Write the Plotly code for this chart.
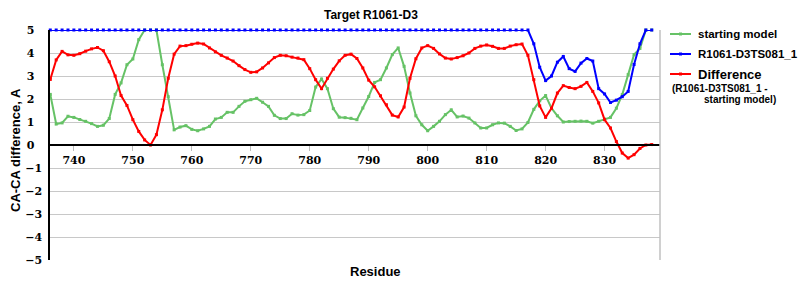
import plotly.graph_objects as go

# ---------------- data ----------------
residues = list(range(736, 839))

starting_model = [
    2.2, 0.91, 0.96, 1.25, 1.2, 1.11, 1.03, 0.93, 0.81, 0.86,
    1.15, 2.2, 2.7, 3.49, 3.74, 4.58, 5.0, 5.0, 5.0, 3.49,
    2.1, 0.66, 0.78, 0.84, 0.68, 0.62, 0.7, 0.81, 1.13, 1.2,
    1.42, 1.42, 1.68, 1.9, 1.97, 2.03, 1.86, 1.68, 1.29, 1.15,
    1.15, 1.36, 1.3, 1.32, 1.5, 2.52, 2.87, 2.45, 1.58, 1.21,
    1.19, 1.16, 1.1, 1.61, 2.11, 2.72, 2.84, 3.35, 3.93, 4.22,
    3.42, 2.26, 1.27, 0.88, 0.62, 0.81, 1.03, 1.32, 1.53, 1.22,
    1.26, 1.17, 0.96, 0.74, 0.74, 0.88, 0.96, 0.95, 0.81, 0.63,
    0.7, 0.98, 1.55, 1.92, 2.15, 1.6, 1.27, 1.0, 1.02, 1.03,
    1.04, 1.03, 0.95, 1.03, 1.13, 1.2, 1.6, 2.19, 3.06, 3.93,
    4.2, 5.0, 5.0,
]

model_ts081 = [
    5.0, 5.0, 5.0, 5.0, 5.0, 5.0, 5.0, 5.0, 5.0, 5.0,
    5.0, 5.0, 5.0, 5.0, 5.0, 5.0, 5.0, 5.0, 5.0, 5.0,
    5.0, 5.0, 5.0, 5.0, 5.0, 5.0, 5.0, 5.0, 5.0, 5.0,
    5.0, 5.0, 5.0, 5.0, 5.0, 5.0, 5.0, 5.0, 5.0, 5.0,
    5.0, 5.0, 5.0, 5.0, 5.0, 5.0, 5.0, 5.0, 5.0, 5.0,
    5.0, 5.0, 5.0, 5.0, 5.0, 5.0, 5.0, 5.0, 5.0, 5.0,
    5.0, 5.0, 5.0, 5.0, 5.0, 5.0, 5.0, 5.0, 5.0, 5.0,
    5.0, 5.0, 5.0, 5.0, 5.0, 5.0, 5.0, 5.0, 5.0, 5.0,
    5.0, 5.0, 4.4, 3.38, 2.8, 3.0, 3.6, 3.85, 3.32, 3.2,
    3.56, 3.76, 3.65, 2.45, 2.22, 1.85, 1.95, 2.1, 2.33, 3.5,
    4.4, 5.0, 5.0,
]

difference = [
    2.85, 3.7, 4.07, 3.92, 3.9, 3.97, 4.08, 4.18, 4.24, 4.1,
    3.62, 3.0, 2.15, 1.72, 1.1, 0.59, 0.22, 0.0, 0.45, 1.53,
    2.9, 3.95, 4.3, 4.32, 4.38, 4.43, 4.39, 4.22, 4.05, 3.9,
    3.78, 3.65, 3.45, 3.28, 3.16, 3.18, 3.35, 3.57, 3.8, 3.9,
    3.88, 3.82, 3.78, 3.71, 3.32, 2.84, 2.45, 2.9, 3.3, 3.66,
    3.9, 3.95, 3.76, 3.35, 2.82, 2.53, 2.14, 1.75, 1.3, 1.22,
    1.65, 2.9, 3.75, 4.22, 4.32, 4.2, 3.96, 3.78, 3.74, 3.8,
    3.88, 4.0, 4.2, 4.3, 4.35, 4.29, 4.2, 4.2, 4.3, 4.36,
    4.39, 3.9, 2.84, 1.7, 1.2, 1.6, 2.26, 2.58, 2.5, 2.45,
    2.55, 2.72, 2.33, 1.83, 1.1, 0.74, 0.15, -0.35, -0.57, -0.42,
    -0.15, 0.0, 0.02,
]

x_ticks = [740, 750, 760, 770, 780, 790, 800, 810, 820, 830]
y_ticks = [-5, -4, -3, -2, -1, 0, 1, 2, 3, 4, 5]

series_names = ["starting model", "R1061-D3TS081_1", "Difference"]
series_colors = ["#66c266", "#0000ff", "#ff0000"]

chart_title = "Target R1061-D3"
x_title = "Residue"
y_title = "CA-CA difference, A"
diff_note_1 = "(R1061-D3TS081_1 -"
diff_note_2 = "starting model)"

# ---------------- figure ----------------
W, H = 800, 300
ML, MR, MT, MB = 50, 140, 30, 40
PW, PH = W - ML - MR, H - MT - MB


def px(xp):
    return (xp - ML) / PW


def py(yp):
    return (H - MB - yp) / PH


fig = go.Figure()
for name, vals, col in zip(series_names, [starting_model, model_ts081, difference], series_colors):
    fig.add_trace(go.Scatter(
        x=residues, y=vals, name=name, mode="lines+markers",
        line=dict(color=col, width=2),
        marker=dict(symbol="square", size=3, color=col, line=dict(width=0)),
        showlegend=False, cliponaxis=False,
    ))

tick_font = dict(family="DejaVu Serif", size=11, color="black", weight="bold")
sans = "Liberation Sans, Arial, sans-serif"

# y labels: left-aligned look (pad positives with a figure space)
y_ticktext = [("\u2212" + str(-v)) if v < 0 else (str(v) + "\u2007") for v in y_ticks]

fig.update_layout(
    width=W, height=H,
    margin=dict(l=ML, r=MR, t=MT, b=MB, pad=0),
    paper_bgcolor="white", plot_bgcolor="white",
    showlegend=False,
    xaxis=dict(
        range=[735.95, 839.4], anchor="free", position=0.5,
        showline=True, linecolor="black", linewidth=1.5,
        ticks="outside", ticklen=5, tickcolor="#bbbbbb", tickwidth=1,
        tickvals=x_ticks, ticktext=[str(v) for v in x_ticks],
        showgrid=False, zeroline=False, tickfont=tick_font,
    ),
    yaxis=dict(
        range=[-5, 5], tickvals=y_ticks, ticktext=y_ticktext,
        showgrid=True, gridcolor="#c8c8c8", gridwidth=1,
        zeroline=False, showline=True, linecolor="black", linewidth=1.5,
        ticks="", tickfont=tick_font, ticklabelstandoff=4,
    ),
)

# right border of plot area
fig.add_shape(type="line", xref="paper", yref="paper", x0=1, x1=1, y0=0, y1=1,
              line=dict(color="#c0c0c0", width=1.5))

# titles
fig.add_annotation(text=chart_title, xref="paper", yref="paper", x=px(371), y=py(15),
                   showarrow=False, xanchor="center", yanchor="middle",
                   font=dict(family=sans, size=12, color="black", weight="bold"))
fig.add_annotation(text=x_title, xref="paper", yref="paper", x=px(375), y=py(271),
                   showarrow=False, xanchor="center", yanchor="middle",
                   font=dict(family=sans, size=13, color="black", weight="bold"))
fig.add_annotation(text=y_title, xref="paper", yref="paper", x=px(15), y=py(150),
                   showarrow=False, xanchor="center", yanchor="middle", textangle=-90,
                   font=dict(family=sans, size=13, color="black", weight="bold"))

# legend (manual)
legend_rows = [34, 54, 74]
legend_sizes = [11.5, 11.5, 13]
for name, col, yy, fs in zip(series_names, series_colors, legend_rows, legend_sizes):
    fig.add_shape(type="line", xref="paper", yref="paper",
                  x0=px(670), x1=px(691), y0=py(yy), y1=py(yy),
                  line=dict(color=col, width=2))
    fig.add_shape(type="rect", xref="paper", yref="paper",
                  x0=px(679), x1=px(682), y0=py(yy - 1.5), y1=py(yy + 1.5),
                  line=dict(width=0), fillcolor=col)
    fig.add_annotation(text=name, xref="paper", yref="paper", x=px(696), y=py(yy),
                       showarrow=False, xanchor="left", yanchor="middle",
                       font=dict(family=sans, size=fs, color="black", weight="bold"))
fig.add_annotation(text=diff_note_1, xref="paper", yref="paper", x=px(670), y=py(88),
                   showarrow=False, xanchor="left", yanchor="middle",
                   font=dict(family=sans, size=10, color="black", weight="bold"))
fig.add_annotation(text=diff_note_2, xref="paper", yref="paper", x=px(702), y=py(99),
                   showarrow=False, xanchor="left", yanchor="middle",
                   font=dict(family=sans, size=10, color="black", weight="bold"))

fig.write_html("out.html")
